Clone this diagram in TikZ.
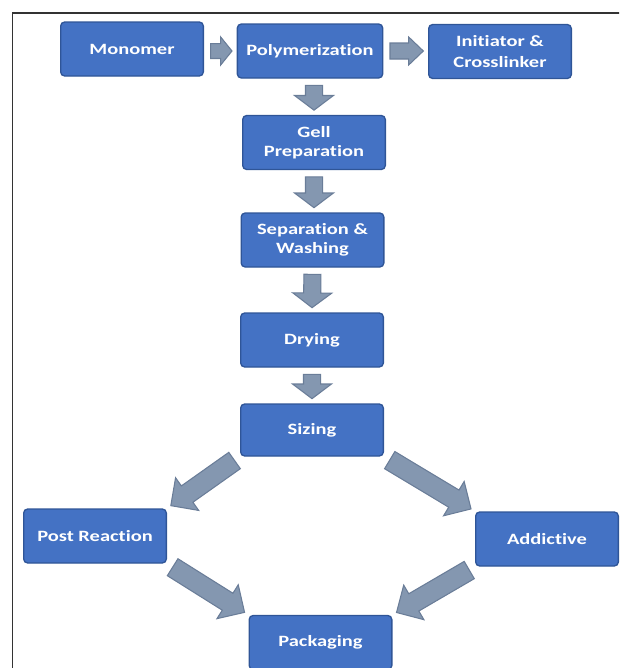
\documentclass[tikz,border=0pt]{standalone}
\usepackage{fontspec}
\setmainfont{Carlito}[FakeStretch=1.3, Ligatures=CommonOff]
\usepackage{tikz}
\usetikzlibrary{arrows.meta,positioning,calc}
\definecolor{boxblue}{HTML}{4472C4}
\definecolor{boxedge}{HTML}{2F5597}
\definecolor{arrfill}{HTML}{8497B0}
\definecolor{arredge}{HTML}{6A7D98}
\definecolor{framegray}{HTML}{333333}
\tikzset{
  stepbox/.style={
    rectangle, rounded corners=3pt, draw=boxedge, fill=boxblue, line width=1pt,
    minimum width=107pt, minimum height=40.5pt, text=white,
    font=\fontsize{11.8}{14}\selectfont\bfseries, align=center, inner sep=2pt
  },
  blockarrow/.style={
    fill=arrfill, draw=arredge, line width=0.8pt, line join=miter
  },
  framebar/.style={
    draw=framegray, line width=0.9pt
  },
}
% block arrow: tail, tip, shaft half width, head half width, head length
\newcommand{\flowarrow}[5]{%
  \coordinate (fa-t) at ($(#1)!5pt!(#2)$);
  \coordinate (fa-p) at ($(#2)!3.5pt!(#1)$);
  \coordinate (fa-h) at ($(fa-p)!#5!(fa-t)$);
  \filldraw[blockarrow] ($(fa-t)!#3!90:(fa-p)$) -- ($(fa-h)!#3!90:(fa-p)$)
    -- ($(fa-h)!#4!90:(fa-p)$) -- (fa-p) -- ($(fa-h)!#4!-90:(fa-p)$)
    -- ($(fa-h)!#3!-90:(fa-p)$) -- ($(fa-t)!#3!-90:(fa-p)$) -- cycle;}

\begin{document}
\begin{tikzpicture}[x=0.75pt,y=-0.75pt]
  \useasboundingbox (0,0) rectangle (619,668);
  \clip (0,0) rectangle (619,668);
  % frame
  \draw[framebar] (12.7,670) -- (12.7,13) -- (620,13);

  % top row
  \node[stepbox] (mono) at (132,49) {Monomer};
  \node[stepbox, minimum width=109pt] (poly) at (310,51) {Polymerization};
  \node[stepbox] (init) at (500,51.5) {Initiator \&\\[2pt]Crosslinker};

  % main column
  \node[stepbox] (gell) at (314,142.5) {Gell\\Preparation};
  \node[stepbox] (sep) at (312.5,240) {Separation \&\\Washing};
  \node[stepbox] (dry) at (312,340) {Drying};
  \node[stepbox, minimum height=39pt] (siz) at (312,430) {Sizing};

  % branches
  \node[stepbox] (post) at (95,536) {Post Reaction};
  \node[stepbox] (add) at (547,539) {Addictive};
  \node[stepbox] (pack) at (320.5,642.5) {Packaging};

  % arrows
  \flowarrow{mono.east |- poly.west}{poly.west}{5.6pt}{10.5pt}{8.5pt}
  \flowarrow{poly.east}{init.west |- poly.east}{6pt}{10.5pt}{11pt}
  \flowarrow{poly.south -| gell.north}{gell.north}{6.4pt}{14.6pt}{11pt}
  \flowarrow{gell.south}{sep.north -| gell.south}{6.4pt}{14.6pt}{11pt}
  \flowarrow{sep.south}{dry.north}{6.4pt}{14.6pt}{11pt}
  \flowarrow{dry.south}{siz.north}{6.4pt}{14.6pt}{11pt}
  \flowarrow{siz.south west}{post.north east}{7.5pt}{15pt}{15pt}
  \flowarrow{siz.south east}{add.north west}{7.5pt}{15pt}{15pt}
  \flowarrow{post.south east}{pack.north west}{7.5pt}{15pt}{15pt}
  \flowarrow{add.south west}{pack.north east}{7.5pt}{15pt}{15pt}
\end{tikzpicture}
\end{document}
